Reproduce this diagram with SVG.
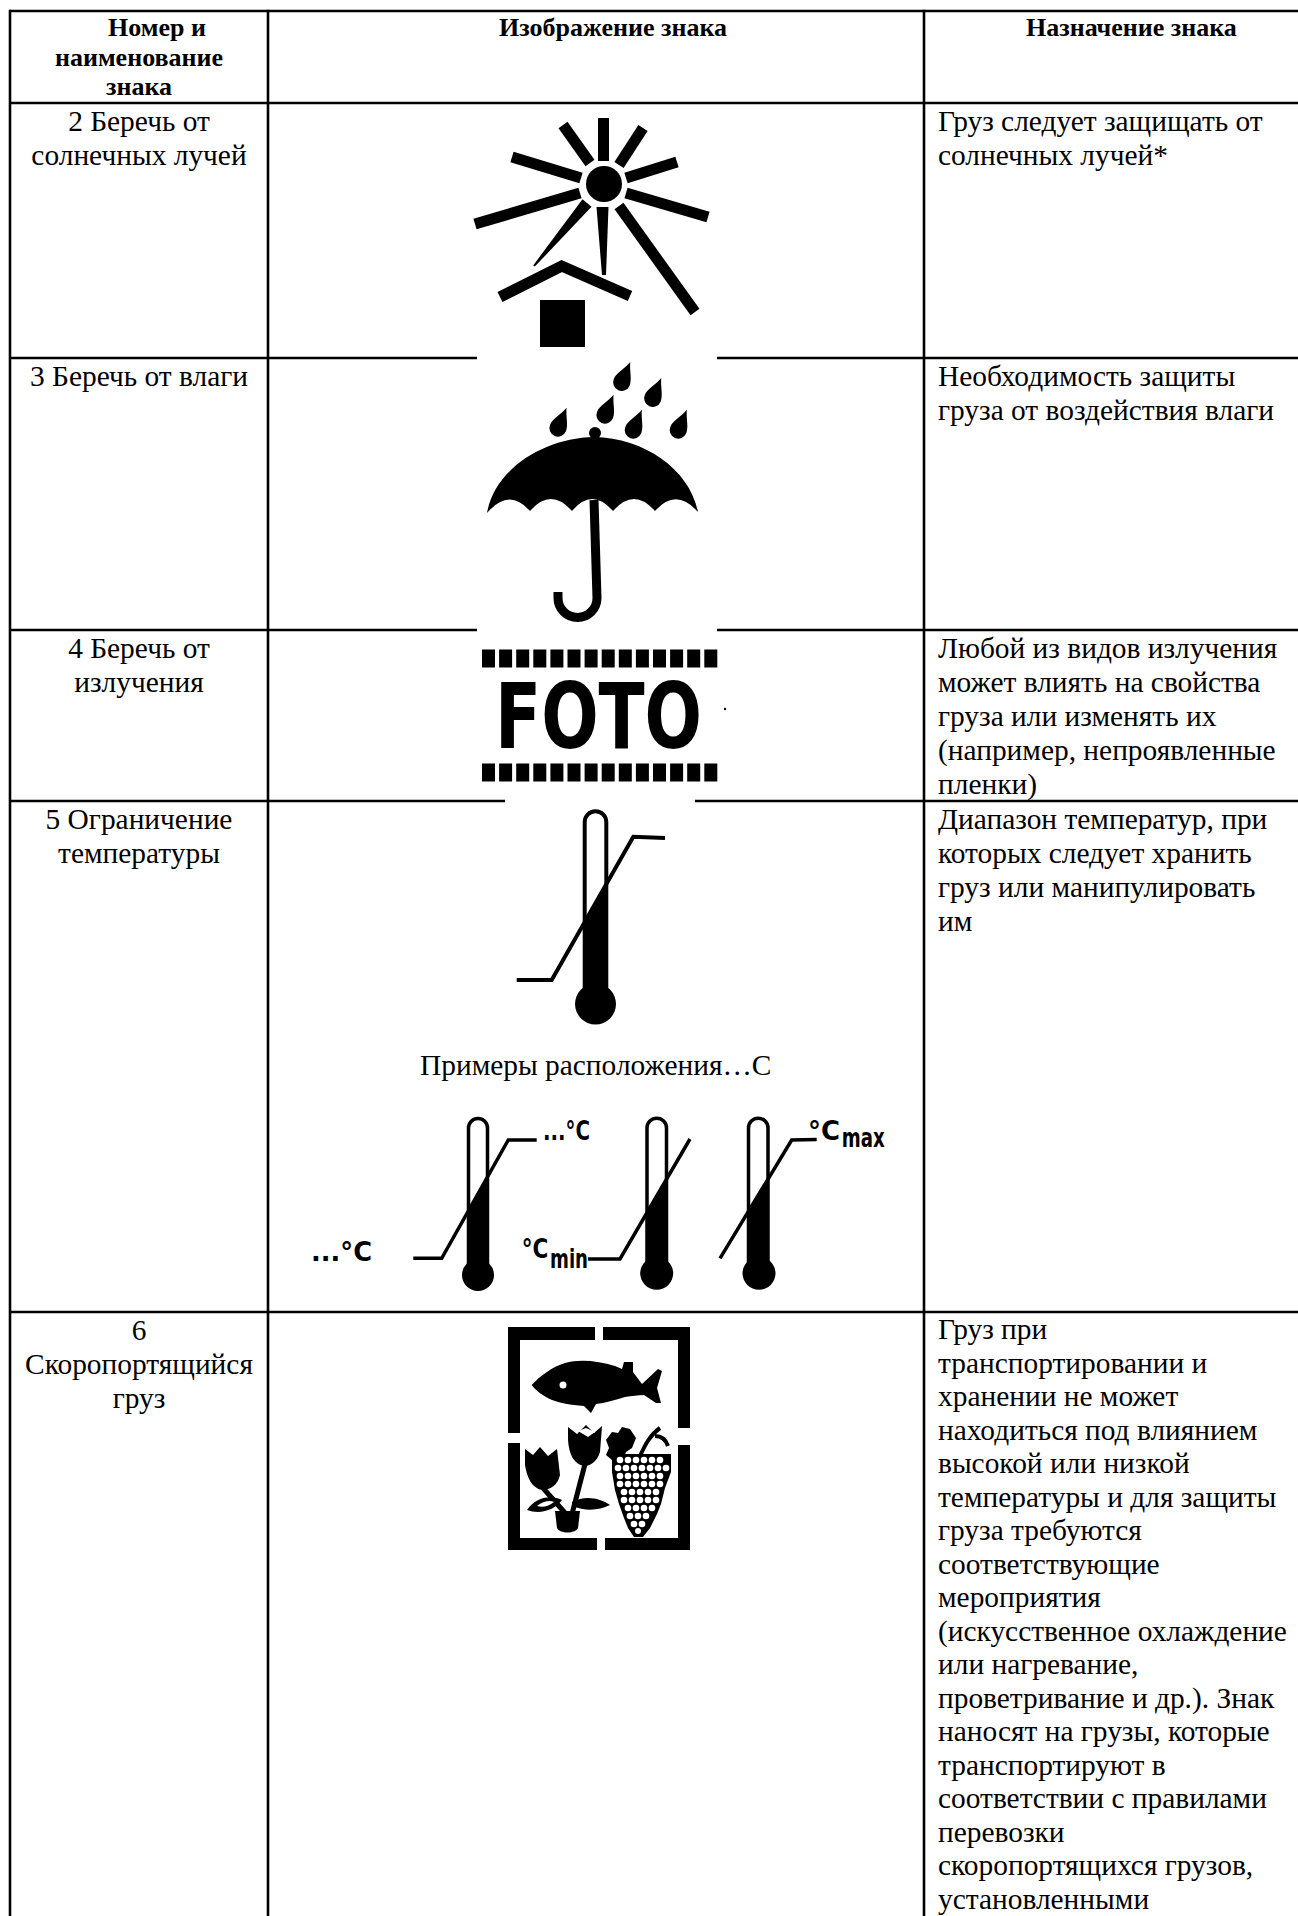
<svg xmlns="http://www.w3.org/2000/svg" xmlns:xlink="http://www.w3.org/1999/xlink" width="1298" height="1916" viewBox="0 0 1298 1916">
<style>
.grid line{stroke:#000;stroke-width:2.6}
.t{font-family:"Liberation Serif","Times New Roman",serif;font-size:29.4px;fill:#000}
.h{font-family:"Liberation Serif","Times New Roman",serif;font-size:26px;font-weight:bold;fill:#000}
.c{text-anchor:middle}
.lbl{font-family:"DejaVu Sans Condensed","DejaVu Sans",sans-serif;font-weight:bold;font-size:27px;fill:#000}
.ln{fill:none;stroke:#000;stroke-width:3.5}
.tube{fill:none;stroke:#000;stroke-width:3.5}
</style>
<defs>
<path id="drop" d="M0,-22 C2.3,-14 8.6,-7 8.6,0 A8.6,8.6 0 0 1 -8.6,0 C-8.6,-7 -2.3,-14 0,-22 Z"/>
<rect id="perf" width="13" height="18"/>
</defs>
<rect width="1298" height="1916" fill="#fff"/>

<g id="grid" class="grid">
<line x1="10" y1="11" x2="1298" y2="11"/>
<line x1="10" y1="103" x2="1298" y2="103"/>
<line x1="10" y1="358" x2="477" y2="358"/><line x1="717" y1="358" x2="1298" y2="358"/>
<line x1="10" y1="630" x2="477" y2="630"/><line x1="717" y1="630" x2="1298" y2="630"/>
<line x1="10" y1="801" x2="505" y2="801"/><line x1="695" y1="801" x2="1298" y2="801"/>
<line x1="10" y1="1312" x2="1298" y2="1312"/>
<line x1="10" y1="9.7" x2="10" y2="1916"/>
<line x1="268" y1="9.7" x2="268" y2="1916"/>
<line x1="924" y1="9.7" x2="924" y2="1916"/>
</g>

<g id="header">
<text class="h" x="108" y="36">Номер и</text>
<text class="h c" x="139" y="65.5">наименование</text>
<text class="h c" x="139" y="95">знака</text>
<text class="h" x="499" y="36">Изображение знака</text>
<text class="h" x="1026" y="36">Назначение знака</text>
</g>

<g id="row2">
<text class="t c" x="139" y="131">2 Беречь от</text>
<text class="t c" x="139" y="165">солнечных лучей</text>
<text class="t" x="938" y="131">Груз следует защищать от</text>
<text class="t" x="938" y="165">солнечных лучей*</text>
</g>
<g id="sign-sun">
<circle cx="604" cy="184" r="18"/>
<g stroke="#000" stroke-width="11" fill="none">
<line x1="603.5" y1="118" x2="603.5" y2="161"/>
<line x1="563" y1="125" x2="590" y2="163"/>
<line x1="643" y1="128" x2="619" y2="165"/>
<line x1="512" y1="157" x2="581" y2="178"/>
<line x1="677" y1="162" x2="626" y2="178"/>
<line x1="475" y1="224" x2="580" y2="193"/>
<line x1="708" y1="217" x2="626" y2="193"/>
<line x1="619" y1="206" x2="695" y2="312"/>
<polyline points="500,297 561.7,266 630,296"/>
</g>
<polygon points="596.5,207 608.5,207 606,275 602,275"/>
<polygon points="591.5,206.8 582.5,199.2 533.2,265.4 534.8,266.6"/>
<rect x="540" y="300" width="45" height="47"/>
</g>

<g id="row3">
<text class="t c" x="139" y="386">3 Беречь от влаги</text>
<text class="t" x="938" y="386">Необходимость защиты</text>
<text class="t" x="938" y="420">груза от воздействия влаги</text>
</g>
<g id="sign-umbrella">
<circle cx="595" cy="433" r="6"/>
<path d="M487,513 C495,468 545,438 594,437 C645,438 690,470 698,512 Q676,487 655,511 Q634,487 613,511 Q592,487 572,511 Q551,487 530,511 Q509,487 487,513 Z"/>
<path d="M594,500 L597,598 A19.5,19.5 0 0 1 558,598 L558,592" fill="none" stroke="#000" stroke-width="9"/>
<use xlink:href="#drop" transform="translate(558,428) rotate(23)"/>
<use xlink:href="#drop" transform="translate(605,415) rotate(23)"/>
<use xlink:href="#drop" transform="translate(621.7,382.3) rotate(23)"/>
<use xlink:href="#drop" transform="translate(633.3,430) rotate(23)"/>
<use xlink:href="#drop" transform="translate(652.7,398.3) rotate(23)"/>
<use xlink:href="#drop" transform="translate(678.3,430) rotate(23)"/>
</g>

<g id="row4">
<text class="t c" x="139" y="658">4 Беречь от</text>
<text class="t c" x="139" y="692">излучения</text>
<text class="t" x="938" y="658">Любой из видов излучения</text>
<text class="t" x="938" y="692">может влиять на свойства</text>
<text class="t" x="938" y="726">груза или изменять их</text>
<text class="t" x="938" y="760">(например, непроявленные</text>
<text class="t" x="938" y="794">пленки)</text>
</g>
<g id="sign-foto">
<use xlink:href="#perf" x="482" y="649.5"/><use xlink:href="#perf" x="499.1" y="649.5"/><use xlink:href="#perf" x="516.2" y="649.5"/><use xlink:href="#perf" x="533.3" y="649.5"/><use xlink:href="#perf" x="550.4" y="649.5"/><use xlink:href="#perf" x="567.5" y="649.5"/><use xlink:href="#perf" x="584.6" y="649.5"/><use xlink:href="#perf" x="601.7" y="649.5"/><use xlink:href="#perf" x="618.8" y="649.5"/><use xlink:href="#perf" x="635.9" y="649.5"/><use xlink:href="#perf" x="653" y="649.5"/><use xlink:href="#perf" x="670.1" y="649.5"/><use xlink:href="#perf" x="687.2" y="649.5"/><use xlink:href="#perf" x="704.3" y="649.5"/>
<use xlink:href="#perf" x="482" y="763.5"/><use xlink:href="#perf" x="499.1" y="763.5"/><use xlink:href="#perf" x="516.2" y="763.5"/><use xlink:href="#perf" x="533.3" y="763.5"/><use xlink:href="#perf" x="550.4" y="763.5"/><use xlink:href="#perf" x="567.5" y="763.5"/><use xlink:href="#perf" x="584.6" y="763.5"/><use xlink:href="#perf" x="601.7" y="763.5"/><use xlink:href="#perf" x="618.8" y="763.5"/><use xlink:href="#perf" x="635.9" y="763.5"/><use xlink:href="#perf" x="653" y="763.5"/><use xlink:href="#perf" x="670.1" y="763.5"/><use xlink:href="#perf" x="687.2" y="763.5"/><use xlink:href="#perf" x="704.3" y="763.5"/>
<text x="495" y="748" font-family="DejaVu Sans Condensed, DejaVu Sans, sans-serif" font-weight="bold" font-size="91" textLength="207" lengthAdjust="spacingAndGlyphs">FOTO</text>
<circle cx="725" cy="709" r="1.2"/>
</g>

<g id="row5">
<text class="t c" x="139" y="829">5 Ограничение</text>
<text class="t c" x="139" y="863">температуры</text>
<text class="t" x="938" y="829">Диапазон температур, при</text>
<text class="t" x="938" y="863">которых следует хранить</text>
<text class="t" x="938" y="897">груз или манипулировать</text>
<text class="t" x="938" y="931">им</text>
<text class="t" x="420" y="1075">Примеры расположения…С</text>
</g>
<g id="sign-thermometer">
<path class="tube" style="stroke-width:4" d="M584.7,998 V822 A10.8,10.8 0 0 1 606.3,822 V998"/>
<polygon points="584.7,922 606.3,884 606.3,1000 584.7,1000"/>
<circle cx="595.5" cy="1004" r="20.5"/>
<polyline class="ln" style="stroke-width:4" points="516.7,980 551.7,980 633.3,836.7 665,838"/>
</g>
<g id="sign-thermometer-examples">
<path class="tube" d="M468.5,1265 V1128 A9.5,9.5 0 0 1 487.5,1128 V1265"/>
<polygon points="468.5,1210.7 487.5,1177 487.5,1268 468.5,1268"/>
<circle cx="478" cy="1275" r="16"/>
<polyline class="ln" points="413.3,1258.3 441.7,1258.3 508.3,1140 536.7,1140"/>
<text class="lbl" x="543" y="1140" textLength="47" lengthAdjust="spacingAndGlyphs">...°C</text>
<text class="lbl" x="311" y="1261" textLength="61" lengthAdjust="spacingAndGlyphs">...°C</text>

<path class="tube" d="M647,1265 V1128 A9.75,9.75 0 0 1 666.5,1128 V1265"/>
<polygon points="647,1211.7 666.5,1178.3 666.5,1268 647,1268"/>
<circle cx="656.7" cy="1273.3" r="16.5"/>
<polyline class="ln" points="588,1259 620,1259 690,1139"/>
<text class="lbl" x="521.7" y="1258" textLength="26.6" lengthAdjust="spacingAndGlyphs">°C</text>
<text class="lbl" x="550" y="1268" font-size="24" textLength="38" lengthAdjust="spacingAndGlyphs">min</text>

<path class="tube" d="M748.5,1265 V1128 A9.75,9.75 0 0 1 768,1128 V1265"/>
<polygon points="748.5,1211.3 768,1179.1 768,1268 748.5,1268"/>
<circle cx="759" cy="1273.3" r="16.5"/>
<polyline class="ln" points="720,1258.3 791.7,1140 816.7,1139.5"/>
<text class="lbl" x="808" y="1140" textLength="32" lengthAdjust="spacingAndGlyphs">°C</text>
<text class="lbl" x="841.7" y="1146.7" font-size="24" textLength="43" lengthAdjust="spacingAndGlyphs">max</text>
</g>

<g id="row6">
<text class="t c" x="139" y="1340">6</text>
<text class="t c" x="139" y="1374">Скоропортящийся</text>
<text class="t c" x="139" y="1408">груз</text>
<text class="t" x="938" y="1339">Груз при<tspan x="938" dy="33.5">транспортировании и</tspan><tspan x="938" dy="33.5">хранении не может</tspan><tspan x="938" dy="33.5">находиться под влиянием</tspan><tspan x="938" dy="33.5">высокой или низкой</tspan><tspan x="938" dy="33.5">температуры и для защиты</tspan><tspan x="938" dy="33.5">груза требуются</tspan><tspan x="938" dy="33.5">соответствующие</tspan><tspan x="938" dy="33.5">мероприятия</tspan><tspan x="938" dy="33.5">(искусственное охлаждение</tspan><tspan x="938" dy="33.5">или нагревание,</tspan><tspan x="938" dy="33.5">проветривание и др.). Знак</tspan><tspan x="938" dy="33.5">наносят на грузы, которые</tspan><tspan x="938" dy="33.5">транспортируют в</tspan><tspan x="938" dy="33.5">соответствии с правилами</tspan><tspan x="938" dy="33.5">перевозки</tspan><tspan x="938" dy="33.5">скоропортящихся грузов,</tspan><tspan x="938" dy="33.5">установленными</tspan></text>
</g>
<g id="sign-perishable">
<rect x="508" y="1327" width="87" height="13"/>
<rect x="603" y="1327" width="87" height="13"/>
<rect x="508" y="1327" width="12" height="106"/>
<rect x="508" y="1443" width="12" height="107"/>
<rect x="678" y="1327" width="12" height="101"/>
<rect x="678" y="1445" width="12" height="105"/>
<rect x="508" y="1538" width="89" height="12"/>
<rect x="605" y="1538" width="85" height="12"/>
<path d="M531.7,1385 C540,1376 552,1367 565,1363 C580,1359 598,1361 615,1366 L622,1369 L624,1362 L633,1362 L633,1372 L642,1384 L658,1369 L662,1371 L657,1388 L661,1403 L656,1403 L644,1395 C638,1395 632,1396 625,1397 C615,1400 605,1403 596,1404 L591,1413 L584,1406 C570,1405 560,1403 552,1400 C543,1396 536,1391 531.7,1385 Z"/>
<circle cx="563" cy="1385" r="3.5" fill="#fff"/>
<path d="M525,1449 L533,1455 L540,1447 L548,1456 L557,1449 L560,1475 C558,1485 550,1490 542,1490 C532,1488 527,1478 525,1465 Z"/>
<path d="M568,1427 L577,1434 L586,1425 L594,1433 L602,1426 L600,1452 C597,1462 590,1466 584,1466 C574,1464 569,1455 568,1440 Z"/>
<path d="M578,1431 L586,1428 L595,1432 L588,1437 Z" fill="#fff"/>
<path d="M543,1488 L566,1514 M585,1464 L572,1514" fill="none" stroke="#000" stroke-width="5"/>
<path d="M527,1510 C535,1498 550,1494 562,1500 C555,1510 540,1515 527,1510 Z"/>
<path d="M537,1506 C543,1501 550,1500 554,1502 C549,1506 543,1508 537,1506 Z" fill="#fff"/>
<path d="M572,1502 C585,1495 600,1498 610,1505 C598,1511 585,1511 572,1506 Z"/>
<path d="M555,1511 L580,1511 L578,1528 C575,1534 560,1534 557,1528 Z"/>
<path d="M606,1440 L612,1432 L618,1433 L622,1427 L630,1429 L636,1438 L632,1448 L626,1452 L622,1462 L614,1470 L612,1460 L606,1455 L609,1448 Z"/>
<path d="M640,1456 C645,1445 650,1435 660,1428 M655,1436 C662,1436 666,1440 668,1446" fill="none" stroke="#000" stroke-width="4"/>
<path d="M612,1454 L671,1454 L671,1472 L665,1488 L661,1504 L657,1514 L650,1528 L643,1537 L634,1537 L628,1528 L624,1518 L619,1504 L615,1490 L612,1472 Z"/>
<g fill="#fff">
<circle cx="620" cy="1460" r="3.3"/><circle cx="628" cy="1460" r="3.3"/><circle cx="636" cy="1460" r="3.3"/><circle cx="644" cy="1460" r="3.3"/><circle cx="652" cy="1460" r="3.3"/><circle cx="660" cy="1460" r="3.3"/>
<circle cx="618" cy="1468" r="3.3"/><circle cx="626" cy="1468" r="3.3"/><circle cx="634" cy="1468" r="3.3"/><circle cx="642" cy="1468" r="3.3"/><circle cx="650" cy="1468" r="3.3"/><circle cx="658" cy="1468" r="3.3"/><circle cx="666" cy="1468" r="3.3"/>
<circle cx="620" cy="1476" r="3.3"/><circle cx="628" cy="1476" r="3.3"/><circle cx="636" cy="1476" r="3.3"/><circle cx="644" cy="1476" r="3.3"/><circle cx="652" cy="1476" r="3.3"/><circle cx="660" cy="1476" r="3.3"/>
<circle cx="620" cy="1484" r="3.3"/><circle cx="628" cy="1484" r="3.3"/><circle cx="636" cy="1484" r="3.3"/><circle cx="644" cy="1484" r="3.3"/><circle cx="652" cy="1484" r="3.3"/><circle cx="660" cy="1484" r="3.3"/>
<circle cx="624" cy="1492" r="3.3"/><circle cx="632" cy="1492" r="3.3"/><circle cx="640" cy="1492" r="3.3"/><circle cx="648" cy="1492" r="3.3"/><circle cx="656" cy="1492" r="3.3"/>
<circle cx="624" cy="1500" r="3.3"/><circle cx="632" cy="1500" r="3.3"/><circle cx="640" cy="1500" r="3.3"/><circle cx="648" cy="1500" r="3.3"/><circle cx="656" cy="1500" r="3.3"/>
<circle cx="628" cy="1508" r="3.3"/><circle cx="636" cy="1508" r="3.3"/><circle cx="644" cy="1508" r="3.3"/><circle cx="652" cy="1508" r="3.3"/>
<circle cx="630" cy="1516" r="3.3"/><circle cx="638" cy="1516" r="3.3"/><circle cx="646" cy="1516" r="3.3"/>
<circle cx="634" cy="1524" r="3.3"/><circle cx="642" cy="1524" r="3.3"/>
<circle cx="638" cy="1531" r="3"/>
</g>
</g>
</svg>
